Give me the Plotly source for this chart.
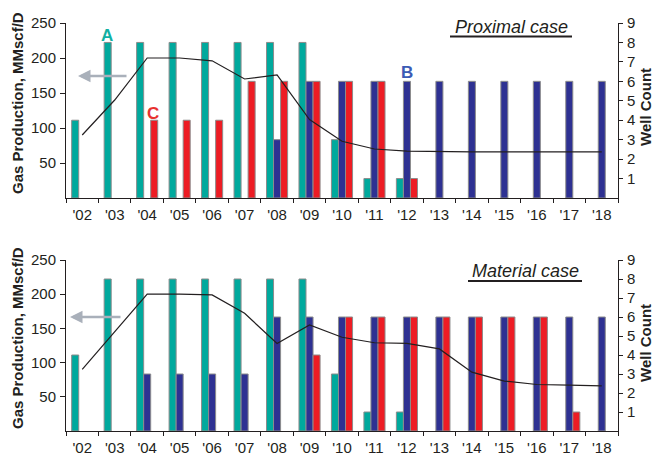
import plotly.graph_objects as go

years = ["'02", "'03", "'04", "'05", "'06", "'07", "'08", "'09", "'10",
         "'11", "'12", "'13", "'14", "'15", "'16", "'17", "'18"]

# Proximal case (well counts, right axis)
prox_A = [4, 8, 8, 8, 8, 8, 8, 8, 3, 1, 1, None, None, None, None, None, None]
prox_B = [None, None, None, None, None, None, 3, 6, 6, 6, 6, 6, 6, 6, 6, 6, 6]
prox_C = [None, None, 4, 4, 4, 6, 6, 6, 6, 6, 1, None, None, None, None, None, None]
prox_gas = [90, 140, 200, 200, 196, 170, 176, 112, 81, 70, 67, 66, 66, 66, 66, 66, 66]

# Material case
mat_A = [4, 8, 8, 8, 8, 8, 8, 8, 3, 1, 1, None, None, None, None, None, None]
mat_B = [None, None, 3, 3, 3, 3, 6, 6, 6, 6, 6, 6, 6, 6, 6, 6, 6]
mat_C = [None, None, None, None, None, None, None, 4, 6, 6, 6, 6, 6, 6, 6, 1, None]
mat_gas = [90, 145, 200, 200, 199, 172, 128, 155, 137, 129, 128, 120, 86, 73, 68, 67, 66]

gas_ticks = [50, 100, 150, 200, 250]
well_ticks = [1, 2, 3, 4, 5, 6, 7, 8, 9]

TEAL = "#00A99D"
NAVY = "#2E3192"
RED = "#ED1C24"
OUTLINE = "#8C8C8C"
INK = "#231F20"
FONT = "Liberation Sans, Arial, sans-serif"

fig = go.Figure()

def add_panel(A, B, C, gas, xa, yb, yl):
    for vals, col in ((A, TEAL), (B, NAVY), (C, RED)):
        fig.add_trace(go.Bar(x=years, y=vals, xaxis=xa, yaxis=yb,
                             marker=dict(color=col, line=dict(color=OUTLINE, width=1)),
                             showlegend=False, hoverinfo="skip"))
    fig.add_trace(go.Scatter(x=years, y=gas, xaxis=xa, yaxis=yl, mode="lines",
                             line=dict(color=INK, width=1.2), showlegend=False,
                             hoverinfo="skip"))

add_panel(prox_A, prox_B, prox_C, prox_gas, "x", "y", "y2")
add_panel(mat_A, mat_B, mat_C, mat_gas, "x2", "y3", "y4")

H = 460.0
top_dom = [1 - 198 / H, 1 - 23 / H]
bot_dom = [1 - 431 / H, 1 - 260 / H]

tickfont = dict(family=FONT, size=15, color=INK)
n = len(years)
boundaries = [i - 0.5 for i in range(n + 1)]

def xax(anchor):
    return dict(domain=[0, 1], anchor=anchor, type="category",
                categoryorder="array", categoryarray=years, automargin=False,
                showline=True, linecolor=INK, linewidth=1, tickson="boundaries",
                ticks="outside", ticklen=4, tickcolor=INK, tickfont=tickfont,
                ticklabelstandoff=3,
                showgrid=False, zeroline=False, fixedrange=True)

def xin(over, anchor):
    return dict(overlaying=over, anchor=anchor, range=[-0.5, n - 0.5],
                tickvals=boundaries, ticks="inside", ticklen=3, tickcolor=INK,
                showticklabels=False, showline=False, showgrid=False,
                zeroline=False, automargin=False)

def well_ax(dom, anchor):
    return dict(domain=dom, anchor=anchor, side="right", range=[0, 9],
                tickvals=well_ticks, ticks="outside", ticklen=4, tickcolor=INK,
                showline=True, linecolor=INK, linewidth=1, showgrid=False,
                zeroline=False, tickfont=tickfont, ticklabelstandoff=1,
                automargin=False)

def gas_ax(over, anchor):
    return dict(overlaying=over, anchor=anchor, side="left", range=[0, 250],
                tickvals=gas_ticks, ticks="outside", ticklen=5, tickcolor=INK,
                showline=True, linecolor=INK, linewidth=1, showgrid=False,
                zeroline=False, tickfont=tickfont, ticklabelstandoff=1,
                automargin=False)

def yin(over, anchor, side, rng, vals):
    return dict(overlaying=over, anchor=anchor, side=side, range=rng,
                tickvals=vals, ticks="inside", ticklen=4, tickcolor=INK,
                showticklabels=False, showline=False, showgrid=False,
                zeroline=False, automargin=False)

annotations = []
xpx = lambda px: (px - 66) / 552.0
ypx = lambda py: 1 - py / H

for yc in (103, 338):
    annotations.append(dict(text="<b>Gas Production, MMscf/D</b>", textangle=-90,
                            xref="paper", yref="paper", x=xpx(17), y=ypx(yc),
                            xanchor="center", yanchor="middle", showarrow=False,
                            font=dict(family=FONT, size=15, color=INK)))
for yc in (107, 343):
    annotations.append(dict(text="<b>Well Count</b>", textangle=-90, xref="paper",
                            yref="paper", x=xpx(645), y=ypx(yc), xanchor="center",
                            yanchor="middle", showarrow=False,
                            font=dict(family=FONT, size=15, color=INK)))

# case titles
annotations.append(dict(text="<i>Proximal case</i>", xref="paper", yref="paper",
                        x=xpx(511), y=ypx(27), xanchor="center", yanchor="middle",
                        showarrow=False, font=dict(family=FONT, size=18, color=INK)))
annotations.append(dict(text="<i>Material case</i>", xref="paper", yref="paper",
                        x=xpx(525), y=ypx(271), xanchor="center", yanchor="middle",
                        showarrow=False, font=dict(family=FONT, size=18, color=INK)))

# series labels
annotations.append(dict(text="<b>A</b>", xref="x", yref="y", x="'03", y=8.35, xshift=-8,
                        showarrow=False, font=dict(family=FONT, size=17, color="#12B0A2")))
annotations.append(dict(text="<b>C</b>", xref="x", yref="y", x="'04", y=4.35, xshift=6,
                        showarrow=False, font=dict(family=FONT, size=17, color="#E8312F")))
annotations.append(dict(text="<b>B</b>", xref="x", yref="y", x="'12", y=6.45, xshift=0,
                        showarrow=False, font=dict(family=FONT, size=17, color="#3B5BB5")))

# arrows pointing to the left axis
annotations.append(dict(text="", xref="paper", yref="paper", x=xpx(78), y=ypx(76),
                        ax=50, ay=0, showarrow=True, arrowhead=2, arrowsize=1,
                        arrowwidth=2.5, arrowcolor="#A9B0BA"))
annotations.append(dict(text="", xref="paper", yref="paper", x=xpx(70), y=ypx(317),
                        ax=52, ay=0, showarrow=True, arrowhead=2, arrowsize=1,
                        arrowwidth=2.5, arrowcolor="#A9B0BA"))

shapes = [
    dict(type="line", xref="paper", yref="paper", x0=xpx(450), x1=xpx(572),
         y0=ypx(36.5), y1=ypx(36.5), line=dict(color=INK, width=2)),
    dict(type="line", xref="paper", yref="paper", x0=xpx(468), x1=xpx(582),
         y0=ypx(281), y1=ypx(281), line=dict(color=INK, width=2)),
]

fig.update_layout(
    width=655, height=460,
    margin=dict(l=66, r=37, t=0, b=0, pad=0, autoexpand=False),
    paper_bgcolor="white", plot_bgcolor="white",
    barmode="group", bargap=0.35, bargroupgap=0,
    xaxis=xax("y"), xaxis2=xax("y3"),
    xaxis3=xin("x", "y"), xaxis4=xin("x2", "y3"),
    yaxis=well_ax(top_dom, "x"), yaxis2=gas_ax("y", "x"),
    yaxis3=well_ax(bot_dom, "x2"), yaxis4=gas_ax("y3", "x2"),
    yaxis5=yin("y", "x", "right", [0, 9], well_ticks),
    yaxis6=yin("y", "x", "left", [0, 250], gas_ticks),
    yaxis7=yin("y3", "x2", "right", [0, 9], well_ticks),
    yaxis8=yin("y3", "x2", "left", [0, 250], gas_ticks),
    annotations=annotations, shapes=shapes,
    font=dict(family=FONT, color=INK),
)

fig.write_html("out.html", config={"displayModeBar": False},
               post_script="document.body.style.margin='0';")
